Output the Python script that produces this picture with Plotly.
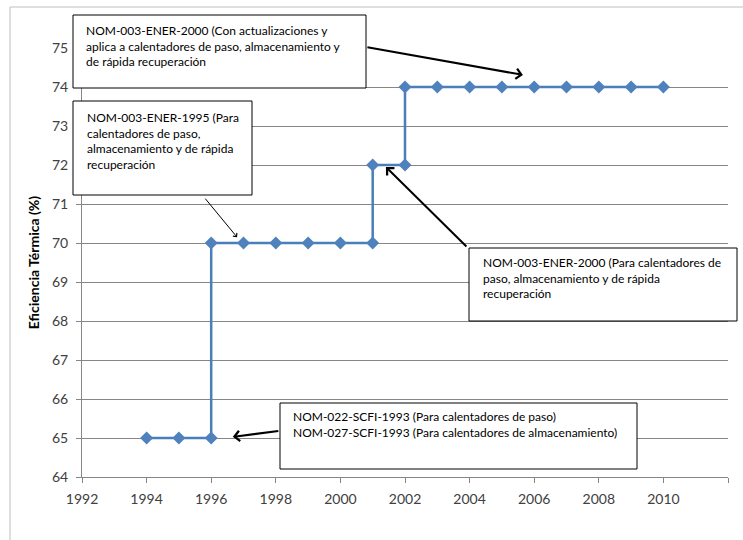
import plotly.graph_objects as go

# Year of each step point (repeated years mark the jumps when a new standard applies)
years = [1994, 1995, 1996, 1996, 1997, 1998, 1999, 2000, 2001, 2001,
         2002, 2002, 2003, 2004, 2005, 2006, 2007, 2008, 2009, 2010]
# Minimum thermal efficiency required (%)
efficiency = [65, 65, 65, 70, 70, 70, 70, 70, 70, 72,
              72, 74, 74, 74, 74, 74, 74, 74, 74, 74]

x_ticks = [1992, 1994, 1996, 1998, 2000, 2002, 2004, 2006, 2008, 2010, 2012]
y_ticks = list(range(64, 76))

# Standards notes: text, box (pixels: left, top, right, bottom), text origin (pixels),
# arrow head (data: year, %), arrow tail offset (pixels), arrow width
notes = [
    dict(text="NOM-003-ENER-2000 (Con actualizaciones y<br>aplica a calentadores de paso, almacenamiento y<br>de rápida recuperación",
         box=(73, 15, 366, 88), org=(84, 21), head=(2005.65, 74.31), tail=(-157, -28), w=2),
    dict(text="NOM-003-ENER-1995 (Para<br>calentadores de paso,<br>almacenamiento y de rápida<br>recuperación",
         box=(73, 101, 252, 195), org=(85, 108), head=(1996.8, 70.15), tail=(-33, -40), w=1),
    dict(text="NOM-003-ENER-2000 (Para calentadores de<br>paso, almacenamiento y de rápida<br>recuperación",
         box=(469, 248, 737, 321), org=(481, 253), head=(2001.41, 71.95), tail=(82, 81), w=2),
    dict(text="NOM-022-SCFI-1993 (Para calentadores de paso)<br>NOM-027-SCFI-1993 (Para calentadores de almacenamiento)",
         box=(280, 403, 637, 469), org=(291, 407), head=(1996.67, 65.03), tail=(47, -6), w=2),
]

W, H = 743, 540
L, R, T, B = 82, 15, 48, 63
PW, PH = W - L - R, H - T - B


def px(x):
    return (x - L) / PW


def py(y):
    return (H - B - y) / PH


FONT = "Lato, Calibri, sans-serif"
AXIS_GREY = "#868686"
TEXT_GREY = "#404040"

fig = go.Figure()
fig.add_trace(go.Scatter(
    x=years, y=efficiency, mode="lines+markers",
    line=dict(color="#4A7EBB", width=2.5),
    marker=dict(symbol="diamond", size=10, color="#4F81BD"),
    showlegend=False, hoverinfo="x+y",
))

shapes = [
    # outer chart frame
    dict(type="line", xref="paper", yref="paper", x0=px(10), x1=px(10), y0=py(7), y1=py(560),
         line=dict(color="#bfbfbf", width=1), layer="below"),
    dict(type="line", xref="paper", yref="paper", x0=px(10), x1=px(760), y0=py(7), y1=py(7),
         line=dict(color="#bfbfbf", width=1), layer="below"),
]
annotations = []
for n in notes:
    x0, y0, x1, y1 = n["box"]
    shapes.append(dict(type="rect", xref="paper", yref="paper",
                       x0=px(x0), x1=px(x1), y0=py(y1), y1=py(y0),
                       fillcolor="white", line=dict(color="black", width=1), layer="above"))
    annotations.append(dict(text=n["text"], xref="paper", yref="paper",
                            x=px(n["org"][0]), y=py(n["org"][1]),
                            xanchor="left", yanchor="top", align="left", showarrow=False,
                            font=dict(family=FONT, size=12, color="black")))
    annotations.append(dict(text="", x=n["head"][0], y=n["head"][1], xref="x", yref="y",
                            ax=n["tail"][0], ay=n["tail"][1], showarrow=True,
                            arrowhead=4, arrowsize=1.0, arrowwidth=n["w"], arrowcolor="black"))

fig.update_layout(
    width=W, height=H,
    margin=dict(l=L, r=R, t=T, b=B, autoexpand=False),
    paper_bgcolor="white", plot_bgcolor="white",
    font=dict(family=FONT, color=TEXT_GREY),
    shapes=shapes, annotations=annotations,
    xaxis=dict(range=[1992, 2012], tickvals=x_ticks, ticks="outside", ticklen=5,
               tickcolor=AXIS_GREY, showline=True, linecolor=AXIS_GREY, showgrid=False,
               zeroline=False, tickfont=dict(size=14, color=TEXT_GREY), ticklabelstandoff=4),
    yaxis=dict(range=[64, 75], tickvals=y_ticks, ticks="outside", ticklen=5,
               tickcolor=AXIS_GREY, showline=True, linecolor=AXIS_GREY, showgrid=True,
               gridcolor=AXIS_GREY, gridwidth=1, zeroline=False,
               tickfont=dict(size=14, color=TEXT_GREY), ticklabelstandoff=5,
               title=dict(text="<b>Eficiencia Térmica (%)</b>", standoff=9,
                          font=dict(size=14, color="black"))),
)

fig.write_html("out.html")
